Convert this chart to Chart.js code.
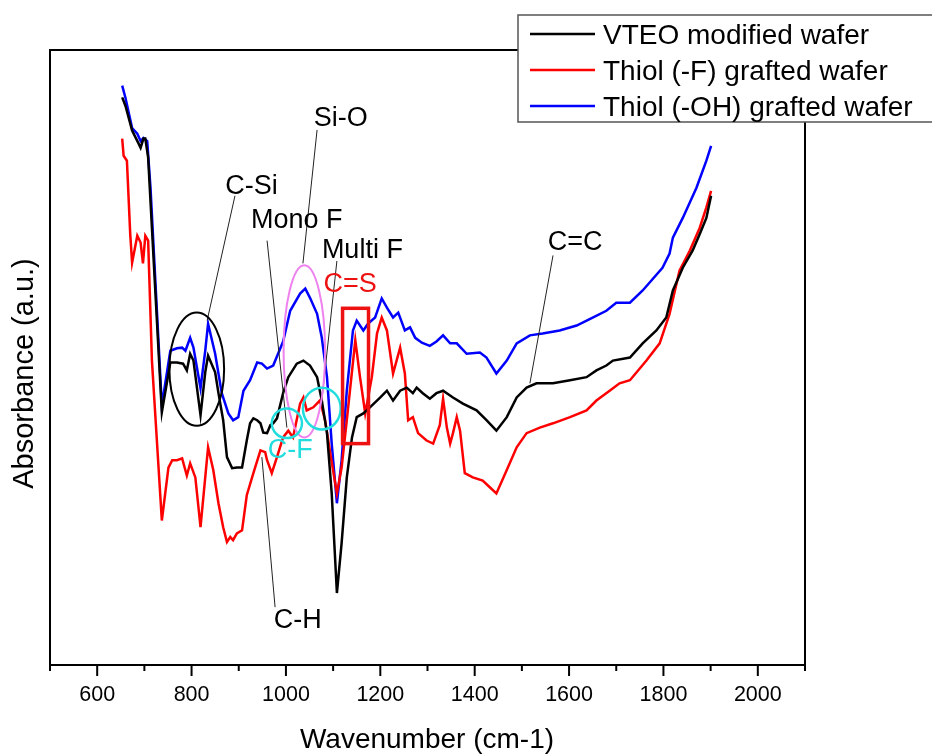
<!DOCTYPE html>
<html>
<head>
<meta charset="utf-8">
<script src="https://cdn.jsdelivr.net/npm/chart.js@4.4.1/dist/chart.umd.min.js"></script>
<style>
  html, body { margin: 0; padding: 0; background: #fff; }
  #chart { display: block; }
</style>
</head>
<body>
<canvas id="chart" width="932" height="754"></canvas>
<script>
const FONT = '"Liberation Sans", Arial, sans-serif';

// wavenumber (cm-1) / absorbance (a.u.)
const vteoX = [653, 660, 674, 687, 692, 698, 702, 708, 737, 755, 769, 782, 790, 797, 804,
  819, 829, 835, 850, 857, 867, 875, 886, 896, 907, 917, 924, 931, 939, 946, 952, 960, 967, 973, 981,
  994, 1005, 1023, 1037, 1051, 1066, 1076, 1087, 1097, 1108, 1118, 1129, 1140, 1150, 1164, 1178, 1200, 1214, 1227, 1242,
  1256, 1269, 1277, 1290, 1305, 1319, 1333, 1354, 1375, 1404, 1425, 1446, 1468, 1489, 1510, 1531, 1566, 1602, 1637, 1658,
  1679, 1693, 1729, 1756, 1785, 1806, 1820, 1841, 1862, 1877, 1891, 1901];
const vteoY = [0.923, 0.909, 0.869, 0.849, 0.841, 0.856, 0.856, 0.825, 0.411, 0.492, 0.492, 0.490, 0.479, 0.506, 0.495,
  0.406, 0.476, 0.503, 0.476, 0.442, 0.398, 0.338, 0.320, 0.321, 0.321, 0.365, 0.393, 0.401, 0.398, 0.393, 0.378, 0.377, 0.390, 0.393, 0.401,
  0.442, 0.468, 0.490, 0.495, 0.487, 0.468, 0.430, 0.377, 0.279, 0.117, 0.198, 0.305, 0.370, 0.403, 0.409, 0.419, 0.435, 0.446, 0.430, 0.446,
  0.451, 0.442, 0.451, 0.442, 0.433, 0.442, 0.446, 0.435, 0.425, 0.414, 0.398, 0.381, 0.403, 0.435, 0.451, 0.458, 0.458, 0.463, 0.468, 0.479,
  0.487, 0.495, 0.500, 0.523, 0.544, 0.565, 0.609, 0.646, 0.674, 0.701, 0.727, 0.763];

const thiolFX = [653, 656, 663, 670, 674, 685, 692, 697, 702, 708, 716, 737, 751, 759, 769, 780, 790, 797, 808, 819,
  825, 835, 846, 857, 867, 875, 882, 888, 896, 907, 917, 931, 946, 956, 960, 970, 981, 994, 1005, 1015,
  1030, 1037, 1044, 1058, 1072, 1083, 1094, 1108, 1118, 1129, 1147, 1157, 1168, 1182, 1193, 1203, 1214, 1227, 1242, 1252,
  1259, 1269, 1280, 1298, 1312, 1326, 1333, 1341, 1348, 1354, 1362, 1369, 1379, 1396, 1417, 1432, 1446, 1468, 1489, 1510,
  1538, 1566, 1602, 1637, 1658, 1686, 1707, 1729, 1764, 1792, 1813, 1834, 1856, 1877, 1891, 1901];
const thiolFY = [0.856, 0.828, 0.820, 0.701, 0.654, 0.698, 0.687, 0.653, 0.698, 0.690, 0.495, 0.235, 0.321, 0.333, 0.333, 0.336, 0.308, 0.328, 0.305, 0.224,
  0.273, 0.354, 0.317, 0.263, 0.224, 0.200, 0.208, 0.203, 0.214, 0.219, 0.276, 0.312, 0.349, 0.346, 0.333, 0.312, 0.338, 0.370, 0.381, 0.370,
  0.425, 0.435, 0.414, 0.419, 0.430, 0.398, 0.344, 0.279, 0.321, 0.398, 0.528, 0.468, 0.409, 0.468, 0.539, 0.565, 0.544, 0.474, 0.516, 0.474,
  0.398, 0.403, 0.377, 0.365, 0.360, 0.390, 0.433, 0.386, 0.360, 0.377, 0.403, 0.381, 0.312, 0.305, 0.300, 0.289, 0.279, 0.317, 0.354, 0.377,
  0.386, 0.393, 0.403, 0.414, 0.430, 0.446, 0.458, 0.463, 0.495, 0.523, 0.571, 0.641, 0.674, 0.711, 0.744, 0.771];

const thiolOHX = [653, 660, 674, 685, 692, 698, 706, 713, 737, 755, 769, 780, 787, 797, 804, 819, 829, 835, 850, 864,
  878, 888, 899, 910, 924, 939, 949, 960, 973, 994, 1009, 1030, 1041, 1051, 1066, 1076, 1087, 1097, 1108, 1118,
  1129, 1142, 1150, 1164, 1174, 1189, 1203, 1214, 1227, 1238, 1252, 1263, 1274, 1288, 1305, 1319, 1333, 1348, 1362, 1383,
  1411, 1425, 1446, 1468, 1489, 1517, 1544, 1580, 1616, 1650, 1679, 1700, 1729, 1756, 1798, 1813, 1820, 1841, 1870, 1891, 1901];
const thiolOHY = [0.942, 0.922, 0.873, 0.864, 0.852, 0.857, 0.852, 0.776, 0.422, 0.511, 0.515, 0.516, 0.511, 0.532, 0.516, 0.450, 0.511, 0.555, 0.506, 0.442,
  0.409, 0.398, 0.403, 0.446, 0.463, 0.492, 0.490, 0.482, 0.487, 0.526, 0.576, 0.604, 0.612, 0.597, 0.571, 0.532, 0.468, 0.360, 0.263, 0.333,
  0.446, 0.544, 0.560, 0.544, 0.555, 0.565, 0.596, 0.581, 0.565, 0.573, 0.544, 0.549, 0.532, 0.524, 0.519, 0.526, 0.536, 0.523, 0.523, 0.506,
  0.508, 0.500, 0.474, 0.495, 0.523, 0.536, 0.539, 0.544, 0.552, 0.565, 0.576, 0.589, 0.589, 0.609, 0.646, 0.669, 0.695, 0.727, 0.776, 0.820, 0.844];

const seriesNames = ['VTEO modified wafer', 'Thiol (-F) grafted wafer', 'Thiol (-OH) grafted wafer'];
const seriesColors = ['#000000', '#ff0000', '#0000ff'];
const xTicks = [600, 800, 1000, 1200, 1400, 1600, 1800, 2000];

// peak labels and marks, in wavenumber / absorbance units
const peakLabels = [
  { text: 'C-Si', x: 927, y: 0.766, color: '#000' },
  { text: 'Si-O', x: 1116, y: 0.877, color: '#000' },
  { text: 'Mono F', x: 1023, y: 0.711, color: '#000' },
  { text: 'Multi F', x: 1162, y: 0.662, color: '#000' },
  { text: 'C=S', x: 1136, y: 0.606, color: '#ee1111' },
  { text: 'C-F', x: 1009, y: 0.336, color: '#22dddd' },
  { text: 'C=C', x: 1613, y: 0.674, color: '#000' },
  { text: 'C-H', x: 1025, y: 0.060, color: '#000' }
];
const leaders = [
  [892, 0.763, 833, 0.560],
  [1066, 0.870, 1036, 0.653],
  [960, 0.690, 1002, 0.386],
  [1108, 0.657, 1076, 0.430],
  [949, 0.338, 977, 0.094],
  [1566, 0.666, 1517, 0.458]
];
const rings = [
  { x: 811, y: 0.481, rx: 58, ry: 0.092, color: '#000000', width: 2 },
  { x: 1039, y: 0.510, rx: 44, ry: 0.140, color: '#ee82ee', width: 2 },
  { x: 1002, y: 0.393, rx: 32, ry: 0.024, color: '#22dddd', width: 2.5 },
  { x: 1076, y: 0.417, rx: 40, ry: 0.034, color: '#22dddd', width: 2.5 }
];
const csBox = { x1: 1120, x2: 1175, y1: 0.580, y2: 0.360 };

const toPoints = (xs, ys) => xs.map((x, i) => ({ x: x, y: ys[i] }));

const overlay = {
  id: 'overlay',
  afterDraw(chart) {
    const { ctx, chartArea: area } = chart;
    const sx = chart.scales.x, sy = chart.scales.y;
    const px = v => sx.getPixelForValue(v);
    const py = v => sy.getPixelForValue(v);
    ctx.save();

    // top and right frame
    ctx.strokeStyle = '#000';
    ctx.lineWidth = 2;
    ctx.beginPath();
    ctx.moveTo(area.left, area.top);
    ctx.lineTo(area.right, area.top);
    ctx.lineTo(area.right, area.bottom);
    ctx.stroke();

    // x ticks, long for labelled ones
    for (let v = 500; v <= 2100; v += 100) {
      const len = xTicks.includes(v) ? 11 : 6;
      ctx.beginPath();
      ctx.moveTo(px(v), area.bottom);
      ctx.lineTo(px(v), area.bottom + len);
      ctx.stroke();
    }

    // leader lines
    ctx.strokeStyle = '#222';
    ctx.lineWidth = 1;
    leaders.forEach(l => {
      ctx.beginPath();
      ctx.moveTo(px(l[0]), py(l[1]));
      ctx.lineTo(px(l[2]), py(l[3]));
      ctx.stroke();
    });

    // ellipses
    rings.forEach(r => {
      ctx.strokeStyle = r.color;
      ctx.lineWidth = r.width;
      ctx.beginPath();
      ctx.ellipse(px(r.x), py(r.y), px(r.x + r.rx) - px(r.x), py(r.y) - py(r.y + r.ry), 0, 0, Math.PI * 2);
      ctx.stroke();
    });

    // C=S box
    ctx.strokeStyle = '#ee1111';
    ctx.lineWidth = 3.5;
    ctx.strokeRect(px(csBox.x1), py(csBox.y1), px(csBox.x2) - px(csBox.x1), py(csBox.y2) - py(csBox.y1));

    // peak labels
    ctx.font = '27px ' + FONT;
    ctx.textAlign = 'center';
    ctx.textBaseline = 'alphabetic';
    peakLabels.forEach(p => {
      ctx.fillStyle = p.color;
      ctx.fillText(p.text, px(p.x), py(p.y));
    });

    // axis titles
    ctx.fillStyle = '#000';
    ctx.font = '28px ' + FONT;
    ctx.fillText('Wavenumber (cm-1)', (area.left + area.right) / 2 - 0.5, 748);
    ctx.save();
    ctx.translate(33, (area.top + area.bottom) / 2 + 16);
    ctx.rotate(-Math.PI / 2);
    ctx.font = '29px ' + FONT;
    ctx.fillText('Absorbance (a.u.)', 0, 0);
    ctx.restore();

    // legend box
    ctx.fillStyle = '#fff';
    ctx.fillRect(518, 15, 430, 107);
    ctx.strokeStyle = '#555';
    ctx.lineWidth = 1.5;
    ctx.strokeRect(518, 15, 430, 107);
    ctx.font = '28px ' + FONT;
    ctx.textAlign = 'left';
    const rowY = [34, 70, 106];
    seriesNames.forEach((name, i) => {
      ctx.strokeStyle = seriesColors[i];
      ctx.lineWidth = 2.5;
      ctx.beginPath();
      ctx.moveTo(530, rowY[i]);
      ctx.lineTo(595, rowY[i]);
      ctx.stroke();
      ctx.fillStyle = '#000';
      ctx.fillText(name, 603, rowY[i] + 10);
    });
    ctx.restore();
  }
};

const ctx = document.getElementById('chart');
new Chart(ctx, {
  type: 'line',
  data: {
    datasets: [
      { label: seriesNames[0], data: toPoints(vteoX, vteoY), borderColor: seriesColors[0] },
      { label: seriesNames[1], data: toPoints(thiolFX, thiolFY), borderColor: seriesColors[1] },
      { label: seriesNames[2], data: toPoints(thiolOHX, thiolOHY), borderColor: seriesColors[2] }
    ]
  },
  options: {
    responsive: false,
    animation: false,
    devicePixelRatio: 1,
    layout: { padding: { top: 50, right: 127, left: 0, bottom: 0 } },
    elements: {
      point: { radius: 0 },
      line: { borderWidth: 2.5, tension: 0, fill: false }
    },
    plugins: {
      legend: { display: false },
      tooltip: { enabled: false }
    },
    scales: {
      x: {
        type: 'linear',
        min: 500,
        max: 2100,
        afterFit: s => { s.height = 89; },
        grid: { display: false, drawTicks: false },
        border: { display: true, color: '#000', width: 2 },
        ticks: {
          stepSize: 100,
          autoSkip: false,
          maxRotation: 0,
          padding: 17,
          color: '#000',
          font: { family: FONT, size: 21.5 },
          callback: v => xTicks.includes(v) ? String(v) : ''
        }
      },
      y: {
        min: 0,
        max: 1,
        afterFit: s => { s.width = 50; },
        grid: { display: false },
        border: { display: true, color: '#000', width: 2 },
        ticks: { display: false }
      }
    }
  },
  plugins: [overlay]
});
</script>
</body>
</html>
